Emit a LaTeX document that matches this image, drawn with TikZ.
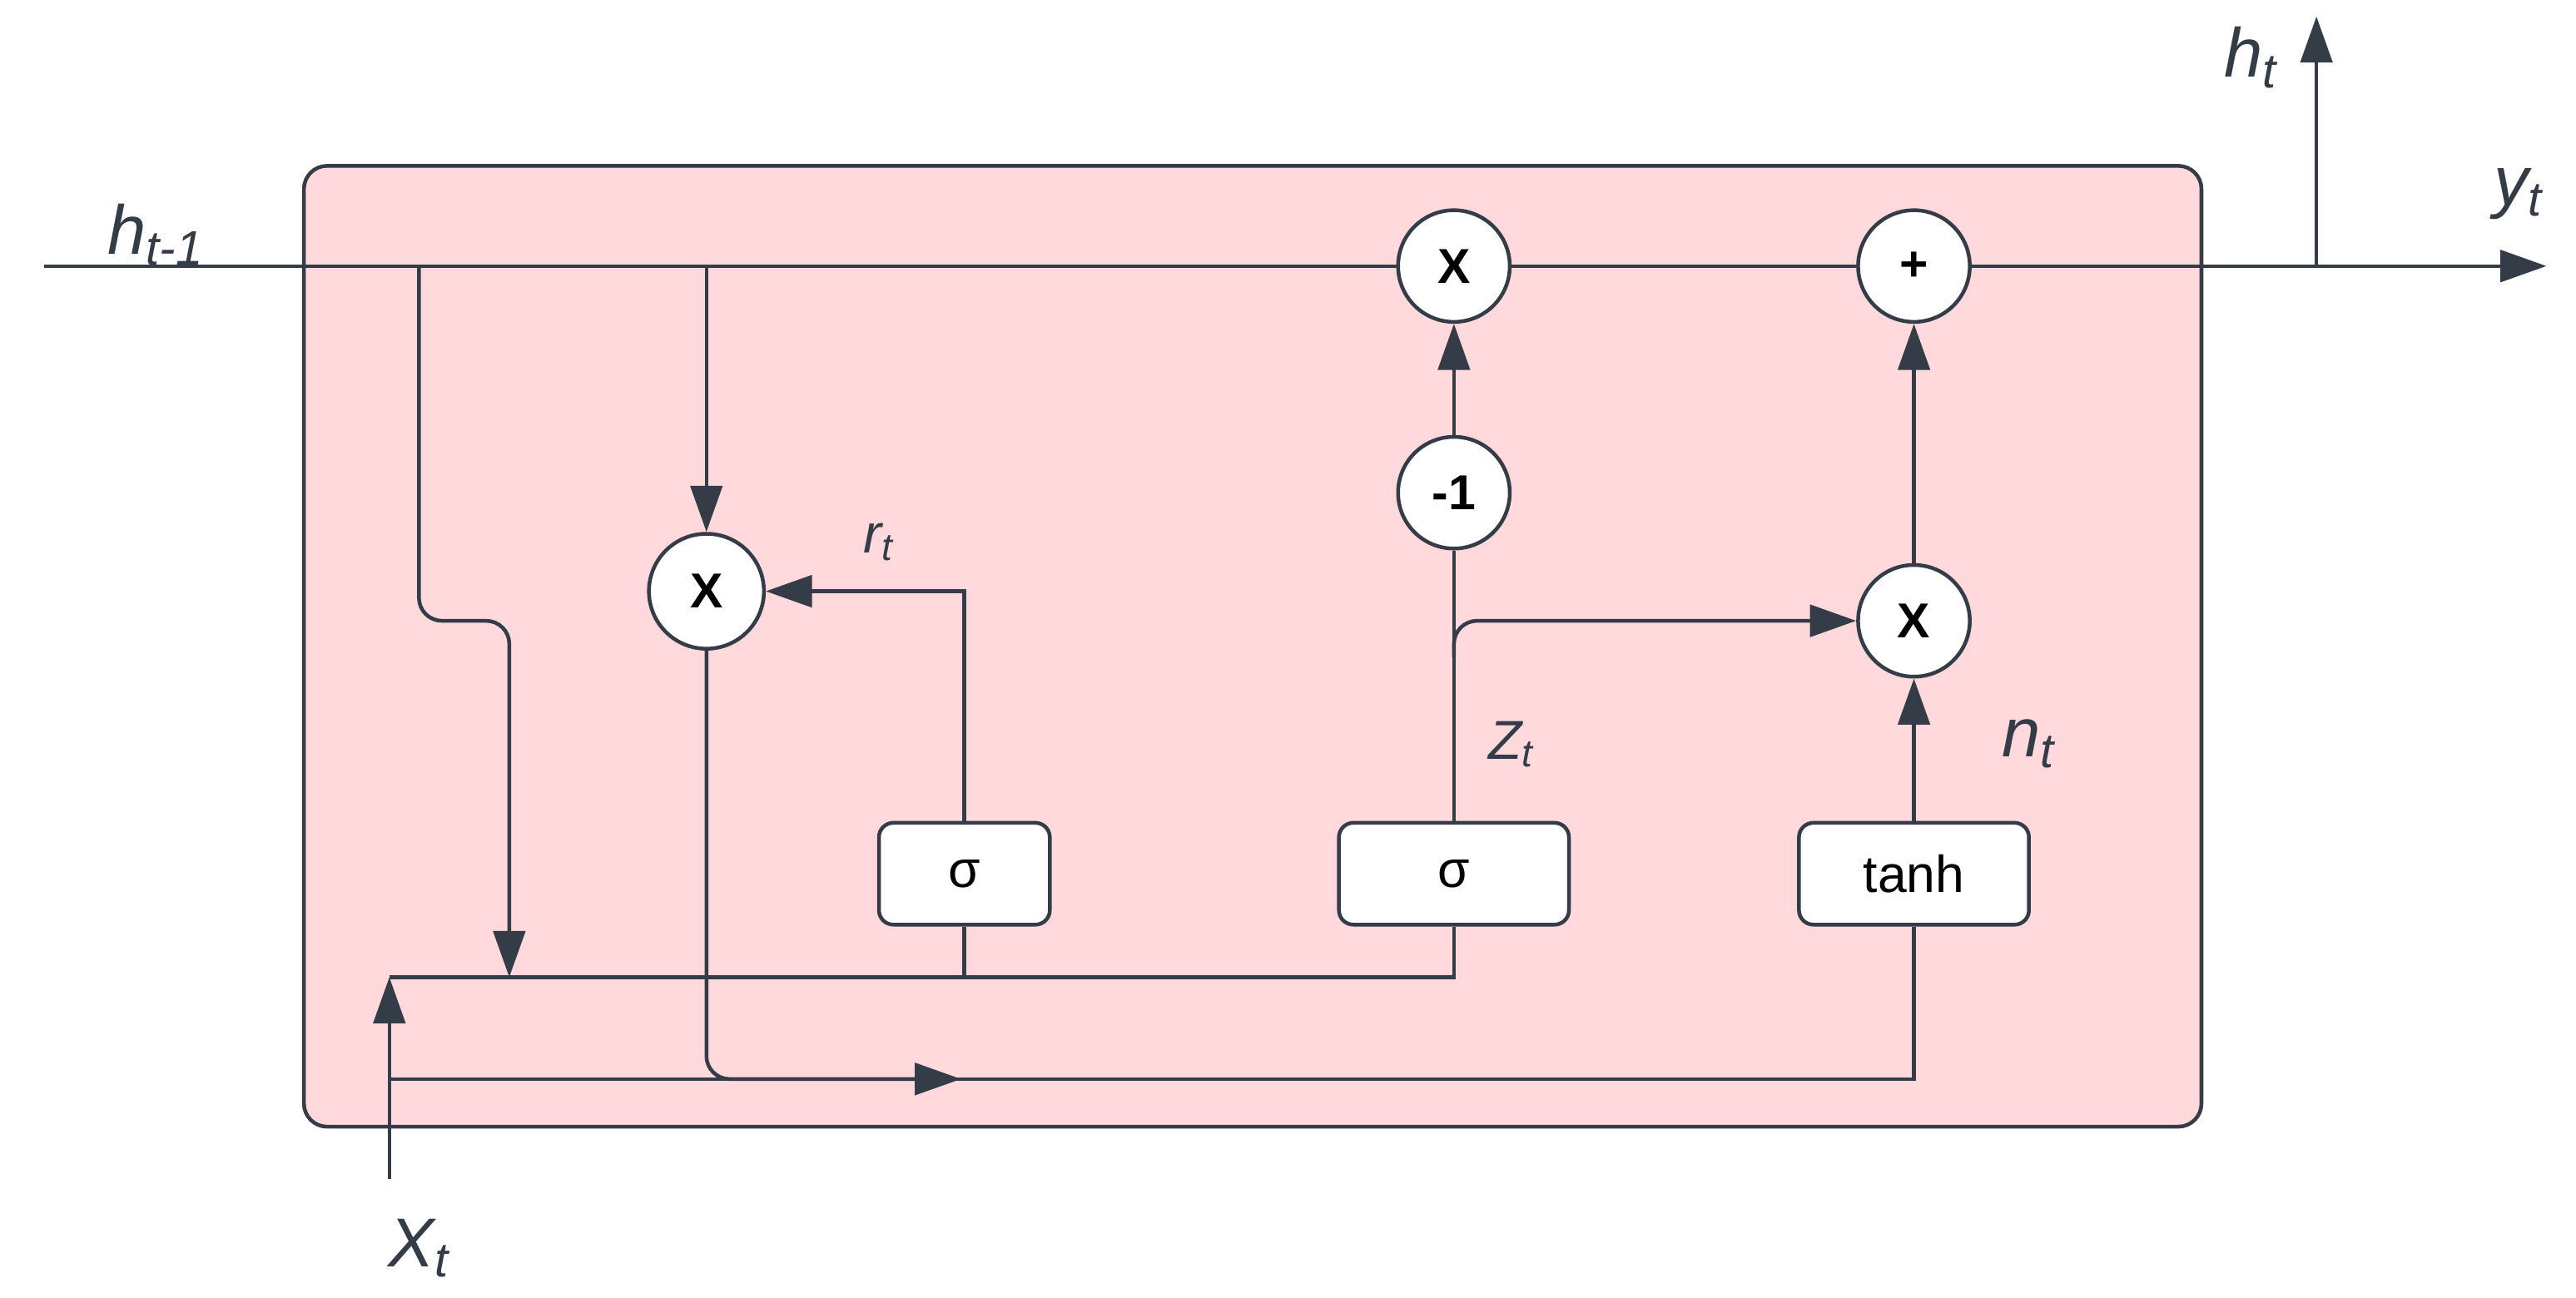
\documentclass[tikz,border=0pt]{standalone}
\usepackage{fontspec}
\setmainfont{Liberation Sans}
\usetikzlibrary{arrows.meta}
\usetikzlibrary{positioning}
\definecolor{cellpink}{RGB}{255,217,220}
\definecolor{inkgray}{RGB}{52,60,72}
\newlength{\gu}
\setlength{\gu}{0.02cm}
\tikzset{
  wire/.style={draw=inkgray, line width=1.3pt},
  arr/.style={wire, -{Triangle[length=16pt,width=11pt]}},
  op/.style={circle, draw=inkgray, line width=1.3pt, fill=white, minimum size=68\gu, inner sep=0pt, font=\fontsize{17}{17}\selectfont\bfseries},
  gate/.style={rectangle, rounded corners=5pt, draw=inkgray, line width=1.3pt, fill=white, minimum height=62\gu, inner sep=0pt, font=\fontsize{18}{18}\selectfont},
  lbl/.style={text=inkgray, font=\fontsize{24}{24}\selectfont\itshape},
  slbl/.style={text=inkgray, font=\fontsize{19}{19}\selectfont\itshape}
}
\newcommand{\sub}[1]{\textsubscript{#1}}
\begin{document}
\begin{tikzpicture}[x=0.02cm, y=-0.02cm]
\useasboundingbox (0,0) rectangle (1568,790);
\draw [draw=inkgray, line width=1.3pt, fill=cellpink, rounded corners=8pt] (185,101) rectangle (1340,686);

% operators
\node [op] (mulh) at (885,162) {X};
\node [op] (add) at (1165,162) {+};
\node [op] (neg) at (885,300) {-1};
\node [op] (muln) at (1165,378) {X};
\node [op, minimum size=70\gu] (mulr) at (430,360) {X};

% gates
\node [gate, minimum width=104\gu] (sigr) at (587,532) {σ};
\node [gate, minimum width=140\gu] (sigz) at (885,532) {σ};
\node [gate, minimum width=140\gu] (tanh) at (1165,532) {tanh};

% coordinates
\coordinate (hin) at (27,162);
\coordinate (hout) at (1550,162);
\coordinate (tap1) at (255,162);
\coordinate (tap2) at (430,162);
\coordinate (split) at (1410,162);
\coordinate (htop) at (1410,10);
\coordinate (xin) at (237,718);
\coordinate (bus) at (237,595);
\coordinate (bus1) at (310,595);
\coordinate (busz) at (885,595);
\coordinate (low) at (237,657);
\coordinate (lowend) at (1165,657);
\coordinate (mid) at (585,657);
\coordinate (zfork) at (885,378);

% hidden state line
\draw [wire] (hin) -- (mulh);
\draw [wire] (mulh) -- (add);
\draw [arr] (add) -- (hout);
\draw [arr] (split) -- (htop);

% reset path
\draw [arr, rounded corners=8pt] (tap1) -- (255,378) -- (310,378) -- (bus1);
\draw [arr] (tap2) -- (mulr);
\draw [arr] (sigr.north) |- (mulr);
\draw [arr, rounded corners=8pt] (mulr) -- (430,657) -- (mid);
\draw [wire] (mid) -- (lowend) -- (tanh);

% input bus
\draw [arr] (xin) -- (bus);
\draw [wire] (bus) -- (busz) -- (sigz);
\draw [wire] (sigr) -- (587,595);
\draw [wire] (low) -- (mid);

% update path
\draw [wire] (sigz) -- (neg);
\draw [arr] (neg) -- (mulh);
\draw [arr, rounded corners=8pt] (885,400) -- (zfork) -- (muln);
\draw [arr] (tanh) -- (muln);
\draw [arr] (muln) -- (add);

% labels
\node [lbl] (lh) at (95,143) {h\sub{t-1}};
\node [lbl] (lht) at (1370,35) {h\sub{t}};
\node [lbl] (ly) at (1533,118) {y\sub{t}};
\node [slbl] (lr) at (535,330) {r\sub{t}};
\node [slbl] (lz) at (920,453) {Z\sub{t}};
\node [lbl] (ln) at (1235,453) {n\sub{t}};
\node [lbl] (lx) at (255,760) {X\sub{t}};
\end{tikzpicture}
\end{document}
